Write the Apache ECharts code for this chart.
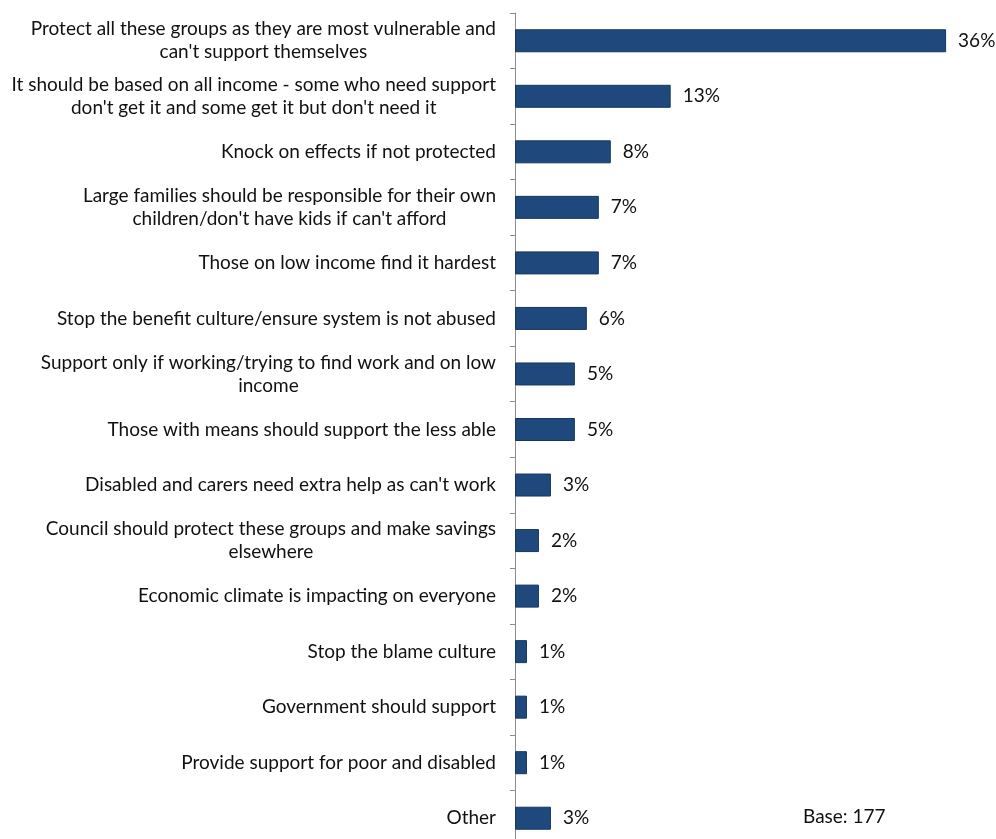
<!DOCTYPE html>
<html>
<head>
<meta charset="utf-8">
<script src="https://cdn.jsdelivr.net/npm/echarts@6/dist/echarts.min.js"></script>
<style>
  html, body { margin: 0; padding: 0; background: #ffffff; overflow: hidden; }
  #chart { width: 996px; height: 846px; }
</style>
</head>
<body>
<div id="chart"></div>
<script>
// Reasons given, top to bottom (line breaks as they wrap on the axis)
const categories = [
  "Protect all these groups as they are most vulnerable and\ncan't support themselves",
  "It should be based on all income - some who need support\ndon't get it and some get it but don't need it",
  "Knock on effects if not protected",
  "Large families should be responsible for their own\nchildren/don't have kids if can't afford",
  "Those on low income find it hardest",
  "Stop the benefit culture/ensure system is not abused",
  "Support only if working/trying to find work and on low\nincome",
  "Those with means should support the less able",
  "Disabled and carers need extra help as can't work",
  "Council should protect these groups and make savings\nelsewhere",
  "Economic climate is impacting on everyone",
  "Stop the blame culture",
  "Government should support",
  "Provide support for poor and disabled",
  "Other"
];

// Share of respondents (%)
const shares = [36, 13, 8, 7, 7, 6, 5, 5, 3, 2, 2, 1, 1, 1, 3];

const baseNote = "Base: 177";

const FONT = "Lato, 'Liberation Sans', Arial, sans-serif";
const SIZE = 19;
const TEXT = '#111111';

const chart = echarts.init(document.getElementById('chart'), null, { renderer: 'canvas' });

chart.setOption({
  animation: false,
  backgroundColor: '#ffffff',
  grid: { left: 515, top: 13, bottom: 0, right: 2, containLabel: false },
  xAxis: {
    type: 'value',
    min: 0,
    max: 40,
    show: false,
    splitLine: { show: false }
  },
  yAxis: {
    type: 'category',
    inverse: true,
    data: categories,
    axisLine: { show: true, lineStyle: { color: '#8c8c8c', width: 1 } },
    axisTick: { show: true, length: 5, inside: false, lineStyle: { color: '#8c8c8c' } },
    axisLabel: {
      margin: 19,
      color: TEXT,
      fontFamily: FONT,
      fontSize: SIZE,
      lineHeight: 23,
      formatter: function (v) {
        return v.split('\n').map(function (s) { return '{c|' + s + '}'; }).join('\n');
      },
      rich: {
        c: { align: 'center', color: TEXT, fontFamily: FONT, fontSize: SIZE, lineHeight: 23 }
      }
    }
  },
  series: [{
    type: 'bar',
    data: shares,
    barWidth: 23,
    itemStyle: { color: '#1f497d', borderColor: '#17375e', borderWidth: 1 },
    label: {
      show: true,
      position: 'right',
      distance: 12,
      color: TEXT,
      fontFamily: FONT,
      fontSize: SIZE,
      formatter: function (p) { return p.value + '%'; }
    }
  }],
  graphic: [{
    type: 'text',
    left: 803,
    top: 807,
    style: { text: baseNote, fill: TEXT, font: SIZE + 'px ' + FONT }
  }]
});
</script>
</body>
</html>
